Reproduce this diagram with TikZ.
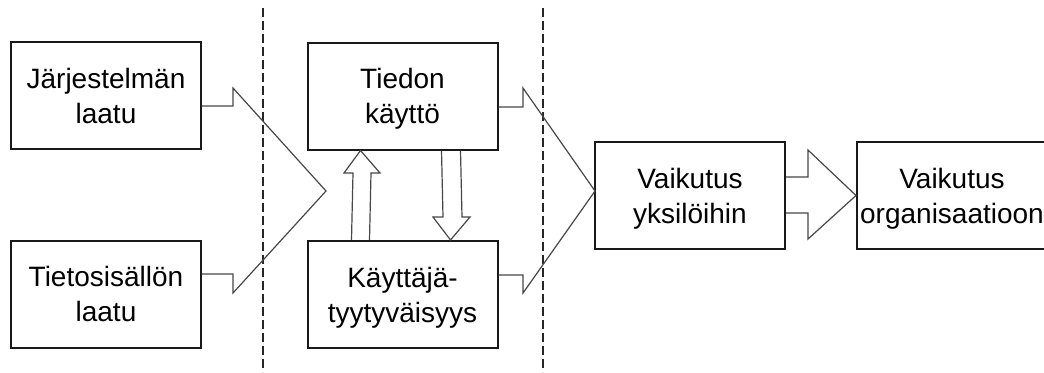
\documentclass[tikz,border=0pt]{standalone}
\usepackage{fontspec}
\setmainfont{Liberation Sans}
\usetikzlibrary{calc}
\begin{document}
\begin{tikzpicture}[x=0.5pt,y=-0.5pt,
  box/.style={draw=black!90, line width=1pt, rectangle, minimum width=95pt,
    minimum height=53.5pt, inner sep=0pt},
  lbl/.style={anchor=base, font=\fontsize{14}{17.5}\selectfont, inner sep=0pt},
  fatarrow/.style={draw=black!72, line width=0.6pt, line join=miter},
  divider/.style={draw=black!85, line width=1pt, dash pattern=on 4.5pt off 2pt}]
  \useasboundingbox (0,0) rectangle (1044,372);
  \clip (0,0) rectangle (1044,372);

  % phase dividers
  \coordinate (d1t) at (263,8);   \coordinate (d1b) at (263,372);
  \coordinate (d2t) at (543,8);   \coordinate (d2b) at (543,372);
  \draw[divider] (d1t) -- (d1b);
  \draw[divider] (d2t) -- (d2b);

  % boxes
  \node[box] (A) at (106,95.5) {};
  \node[box] (B) at (106,294) {};
  \node[box] (C) at (402.5,96) {};
  \node[box] (D) at (402.5,294.5) {};
  \node[box] (E) at (690,195.5) {};
  \node[box] (F) at (952,195.5) {};

  % labels
  \node[lbl] (A1) at (106,88) {Järjestelmän};
  \node[lbl] (A2) at (106,123) {laatu};
  \node[lbl] (B1) at (106,286.5) {Tietosisällön};
  \node[lbl] (B2) at (106,321.5) {laatu};
  \node[lbl] (C1) at (402.5,88.5) {Tiedon};
  \node[lbl] (C2) at (402.5,123.5) {käyttö};
  \node[lbl] (D1) at (402.5,287) {Käyttäjä-};
  \node[lbl] (D2) at (402.5,322) {tyytyväisyys};
  \node[lbl] (E1) at (690,188) {Vaikutus};
  \node[lbl] (E2) at (690,223) {yksilöihin};
  \node[lbl] (F1) at (952,188) {Vaikutus};
  \node[lbl] (F2) at (952,223) {organisaatioon};

  % merging block arrow: quality -> use / satisfaction
  \draw[fatarrow] ($(A.east)+(0,10.5)$) -- (233,106) -- (233,88) -- (326,191)
    -- (233,293) -- (233,274) -- ($(B.east)+(0,-20)$);

  % merging block arrow: use / satisfaction -> individual impact
  \draw[fatarrow] ($(C.east)+(0,11)$) -- (523,107) -- (523,88) -- (595,191)
    -- (523,293) -- (523,275) -- ($(D.east)+(0,-19.5)$);

  % individual impact -> organisational impact
  \draw[fatarrow] ($(E.east)+(0,-18.5)$) -- (808,177) -- (808,150) -- (F.west)
    -- (808,239) -- (808,213) -- ($(E.east)+(0,17.5)$);

  % satisfaction -> use
  \draw[fatarrow] ($(D.north west)+(45,0)$) -- (353,173) -- (344,173)
    -- ($(C.south west)+(54,0)$) -- (380,173) -- (371,173) -- ($(D.north west)+(63,0)$);

  % use -> satisfaction
  \draw[fatarrow] ($(C.south west)+(135,0)$) -- (443,217) -- (433,217)
    -- ($(D.north west)+(144,0)$) -- (470,217) -- (462,217) -- ($(C.south west)+(154,0)$);
\end{tikzpicture}
\end{document}
